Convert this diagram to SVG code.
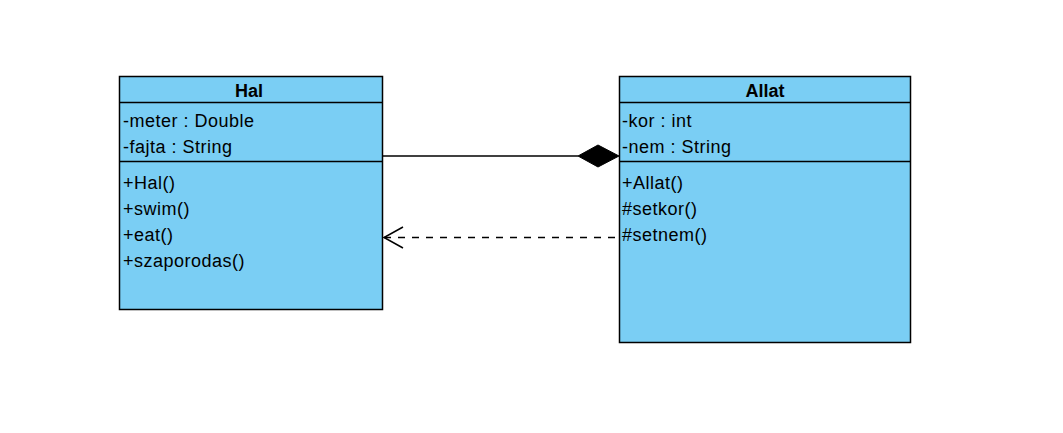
<svg xmlns="http://www.w3.org/2000/svg" width="1063" height="433" viewBox="0 0 1063 433">
<style>
.box{fill:#7ACEF4;stroke:#000;stroke-width:1.5}
.div{stroke:#000;stroke-width:1.5}
.t{font-family:"Liberation Sans",Arial,sans-serif;font-size:18px;letter-spacing:0.5px;fill:#000}
.h{font-weight:bold;text-anchor:middle;letter-spacing:0}
.line{stroke:#000;stroke-width:1.5;fill:none}
</style>
<rect width="1063" height="433" fill="#fff"/>
<g id="Hal">
<rect class="box" x="119.5" y="76.5" width="263" height="233"/>
<line class="div" x1="119.5" y1="102.5" x2="382.5" y2="102.5"/>
<line class="div" x1="119.5" y1="161.5" x2="382.5" y2="161.5"/>
<text class="t h" x="249" y="97">Hal</text>
<text class="t" x="123" y="127">-meter : Double</text>
<text class="t" x="123" y="153">-fajta : String</text>
<text class="t" x="123" y="189">+Hal()</text>
<text class="t" x="123" y="215">+swim()</text>
<text class="t" x="123" y="241">+eat()</text>
<text class="t" x="123" y="267">+szaporodas()</text>
</g>
<g id="Allat">
<rect class="box" x="619.5" y="76.5" width="291" height="266"/>
<line class="div" x1="619.5" y1="102.5" x2="910.5" y2="102.5"/>
<line class="div" x1="619.5" y1="161.5" x2="910.5" y2="161.5"/>
<text class="t h" x="765" y="97">Allat</text>
<text class="t" x="622" y="127">-kor : int</text>
<text class="t" x="622" y="153">-nem : String</text>
<text class="t" x="622" y="189">+Allat()</text>
<text class="t" x="622" y="215">#setkor()</text>
<text class="t" x="622" y="241">#setnem()</text>
</g>
<g id="connectors">
<line class="line" x1="383" y1="156" x2="578" y2="156"/>
<polygon points="578,156 598,145 619,156 598,167" fill="#000" stroke="#000" stroke-width="1"/>
<line class="line" x1="384" y1="237.5" x2="619" y2="237.5" stroke-dasharray="7,7"/>
<polyline class="line" points="403,227 384,237.5 403,248"/>
</g>
</svg>
